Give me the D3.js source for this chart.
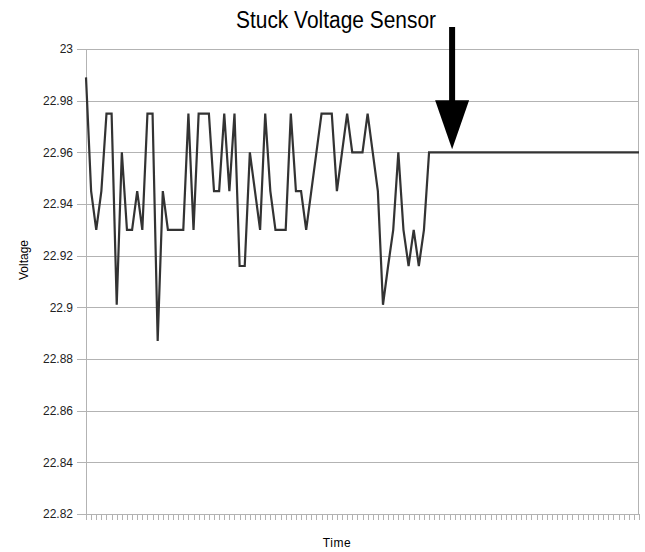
<!DOCTYPE html>
<html>
<head>
<meta charset="utf-8">
<script src="https://cdn.jsdelivr.net/npm/d3@7"></script>
<style>
  body { margin: 0; background: #fff; }
  svg { display: block; font-family: "Liberation Sans", Arial, sans-serif; }
  .grid line { stroke: #b3b3b3; stroke-width: 1; }
  .axis path, .axis line { stroke: #b3b3b3; shape-rendering: crispEdges; }
  .axis text { fill: #222; font-size: 12px; }
</style>
</head>
<body>
<svg id="chart"></svg>
<script>
// voltage readings, one per time step
const voltage = [
  22.989, 22.945, 22.930, 22.945, 22.975, 22.975, 22.901, 22.960, 22.930, 22.930,
  22.945, 22.930, 22.975, 22.975, 22.887, 22.945, 22.930, 22.930, 22.930, 22.930,
  22.975, 22.930, 22.975, 22.975, 22.975, 22.945, 22.945, 22.975, 22.945, 22.975,
  22.916, 22.916, 22.960, 22.945, 22.930, 22.975, 22.945, 22.930, 22.930, 22.930,
  22.975, 22.945, 22.945, 22.930, 22.945, 22.960, 22.975, 22.975, 22.975, 22.945,
  22.960, 22.975, 22.960, 22.960, 22.960, 22.975, 22.960, 22.945, 22.901, 22.916,
  22.930, 22.960, 22.930, 22.916, 22.930, 22.916, 22.930, 22.960, 22.960, 22.960,
  22.960, 22.960, 22.960, 22.960, 22.960, 22.960, 22.960, 22.960, 22.960, 22.960,
  22.960, 22.960, 22.960, 22.960, 22.960, 22.960, 22.960, 22.960, 22.960, 22.960,
  22.960, 22.960, 22.960, 22.960, 22.960, 22.960, 22.960, 22.960, 22.960, 22.960,
  22.960, 22.960, 22.960, 22.960, 22.960, 22.960, 22.960, 22.960, 22.960
];
const timeSteps = d3.range(1, voltage.length + 1);

const yTicks = [22.82, 22.84, 22.86, 22.88, 22.9, 22.92, 22.94, 22.96, 22.98, 23];
const yTickLabels = ["22.82", "22.84", "22.86", "22.88", "22.9", "22.92", "22.94", "22.96", "22.98", "23"];

const title = "Stuck Voltage Sensor";
const stuckStep = 72.5;   // where the arrow points (time step)
const stuckValue = 22.96;

const width = 645, height = 552;
const margin = { top: 49, right: 6, bottom: 38, left: 86 };

const svg = d3.select('#chart')
  .attr('width', width)
  .attr('height', height);

const x = d3.scalePoint()
  .domain(timeSteps)
  .range([margin.left, width - margin.right]);

const xIdx = d3.scaleLinear()
  .domain([1, voltage.length])
  .range([margin.left, width - margin.right]);

const y = d3.scaleLinear()
  .domain([22.82, 23])
  .range([height - margin.bottom, margin.top]);

// horizontal gridlines
svg.append('g')
  .attr('class', 'grid')
  .selectAll('line')
  .data(yTicks)
  .join('line')
  .attr('x1', margin.left)
  .attr('x2', width - margin.right)
  .attr('y1', d => Math.round(y(d)) + 0.5)
  .attr('y2', d => Math.round(y(d)) + 0.5);

// right border
svg.append('line')
  .attr('x1', width - margin.right - 0.5)
  .attr('x2', width - margin.right - 0.5)
  .attr('y1', margin.top)
  .attr('y2', height - margin.bottom)
  .attr('stroke', '#b3b3b3');

// y axis
svg.append('g')
  .attr('class', 'axis')
  .attr('transform', `translate(${margin.left},0)`)
  .call(d3.axisLeft(y)
    .tickValues(yTicks)
    .tickFormat((d, i) => yTickLabels[i])
    .tickSize(9)
    .tickSizeOuter(0)
    .tickPadding(4));

// x axis, one tick per time step, no labels
svg.append('g')
  .attr('class', 'axis')
  .attr('transform', `translate(0,${height - margin.bottom})`)
  .call(d3.axisBottom(x)
    .tickFormat('')
    .tickSize(6)
    .tickSizeOuter(0));

// voltage line
const line = d3.line()
  .x((d, i) => x(timeSteps[i]))
  .y(d => y(d));

svg.append('path')
  .datum(voltage)
  .attr('fill', 'none')
  .attr('stroke', '#333333')
  .attr('stroke-width', 2.2)
  .attr('stroke-linejoin', 'miter')
  .attr('d', line);

// arrow pointing at the stuck reading
const ax = xIdx(stuckStep);
const tipY = y(stuckValue) - 3;
svg.append('rect')
  .attr('x', ax - 3)
  .attr('y', 27)
  .attr('width', 6)
  .attr('height', tipY - 49 - 27 + 2);
svg.append('path')
  .attr('d', `M${ax - 17},${tipY - 49} L${ax + 17},${tipY - 49} L${ax},${tipY} Z`)
  .attr('fill', '#000');

// title (condensed, like the original narrow font)
svg.append('text')
  .attr('x', 336)
  .attr('y', 28)
  .attr('text-anchor', 'middle')
  .attr('font-size', 23)
  .attr('textLength', 200)
  .attr('lengthAdjust', 'spacingAndGlyphs')
  .attr('fill', '#000')
  .text(title);

// axis titles
svg.append('text')
  .attr('transform', `translate(28,260) rotate(-90)`)
  .attr('text-anchor', 'middle')
  .attr('font-size', 12)
  .attr('fill', '#000')
  .text('Voltage');

svg.append('text')
  .attr('x', 337)
  .attr('y', 547)
  .attr('text-anchor', 'middle')
  .attr('font-size', 12)
  .attr('letter-spacing', 0.6)
  .attr('fill', '#000')
  .text('Time');
</script>
</body>
</html>
